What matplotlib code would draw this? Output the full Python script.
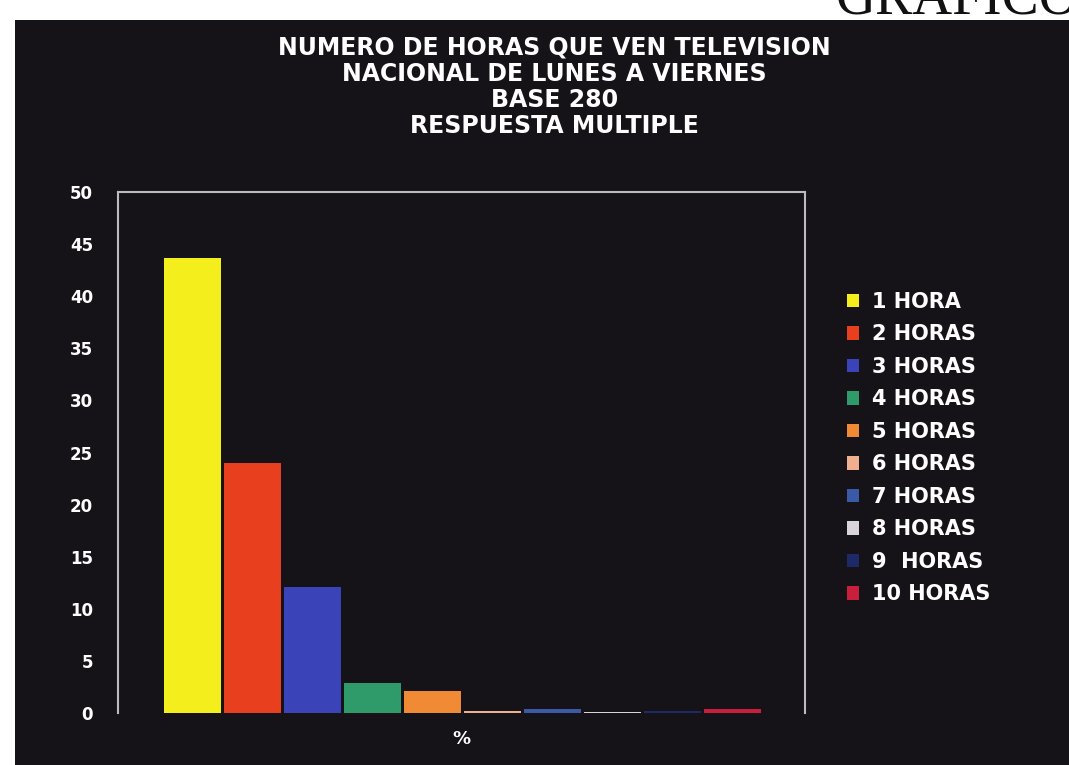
import numpy as np
import matplotlib.pyplot as plt
from matplotlib.patches import Rectangle

# Horas diarias de television nacional, lunes a viernes (% de respuestas)
horas = ['1 HORA', '2 HORAS', '3 HORAS', '4 HORAS', '5 HORAS',
         '6 HORAS', '7 HORAS', '8 HORAS', '9  HORAS', '10 HORAS']
porcentaje = [43.7, 24.0, 12.1, 2.9, 2.1, 0.2, 0.4, 0.1, 0.2, 0.4]
colores = ['#f4ee1c', '#e8401e', '#3a44b8', '#2f9a6a', '#f08a34',
           '#f0b090', '#3a5aa8', '#d8d4d8', '#1e2a68', '#c8203c']
yticks = np.arange(0, 51, 5)

titulo = ('NUMERO DE HORAS QUE VEN TELEVISION\n'
          'NACIONAL DE LUNES A VIERNES\n'
          'BASE 280\n'
          'RESPUESTA MULTIPLE')

fondo = '#161318'
fig = plt.figure(figsize=(10.69, 7.65), dpi=100, facecolor='white')

# dark slide panel behind everything
fig.patches.append(Rectangle((15 / 1069, 0), 1, 745 / 765, transform=fig.transFigure,
                             facecolor=fondo, edgecolor='none', zorder=-5))
fig.text(0.782, 1 - 14 / 765, 'GRAFICO', family='Liberation Serif', fontsize=40,
         color='#111111', va='baseline', ha='left')

ax = fig.add_axes([118 / 1069, 52 / 765, 687 / 1069, 521 / 765])
ax.set_zorder(2)
ax.set_facecolor(fondo)

x = np.arange(len(horas))
barras = ax.bar(x, porcentaje, width=0.95, color=colores, edgecolor='none')

ax.set_xlim(-1.24, 10.21)
ax.set_ylim(0, 50)
ax.set_xticks([])
ax.set_yticks(yticks)
ax.set_yticklabels([str(v) for v in yticks], color='white', fontweight='bold', fontsize=12)
ax.tick_params(axis='y', length=0, pad=18)

for lado in ('left', 'top', 'right'):
    ax.spines[lado].set_color('#bdbac0')
    ax.spines[lado].set_linewidth(1.5)
ax.spines['bottom'].set_visible(False)

ax.set_xlabel('%', color='white', fontweight='bold', fontsize=13, labelpad=12)

fig.text(0.519, 1 - 36 / 765, titulo, ha='center', va='top', color='white',
         fontweight='bold', fontsize=17, linespacing=1.1)

leg = fig.legend(barras, horas, loc='upper left', bbox_to_anchor=(828 / 1069, 1 - 273 / 765),
                 frameon=False, handlelength=0.6, handleheight=0.6, handletextpad=0.6,
                 labelspacing=0.6, prop={'size': 15, 'weight': 'bold'})
for t in leg.get_texts():
    t.set_color('white')

fig.savefig('out.png', dpi=100, facecolor=fig.get_facecolor())
